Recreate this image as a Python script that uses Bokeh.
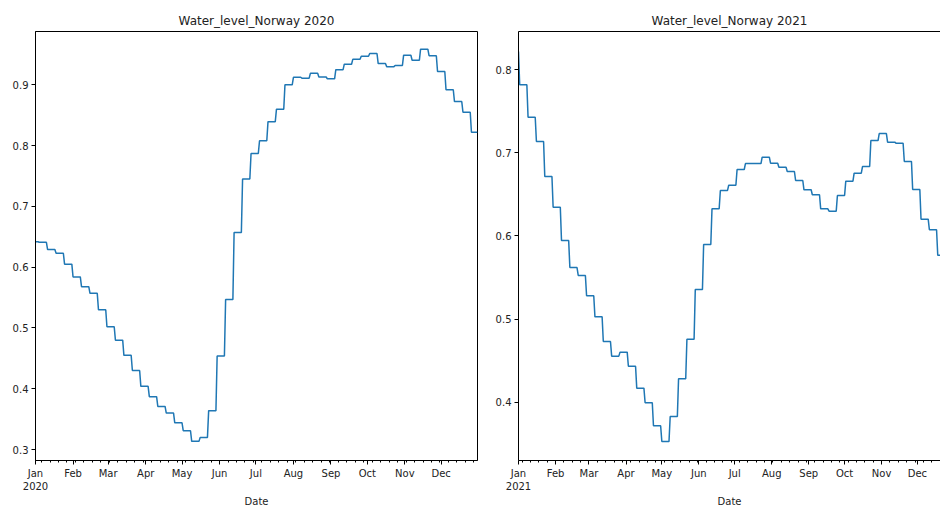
import pandas as pd
from bokeh.plotting import figure
from bokeh.layouts import row
from bokeh.models import Range1d, FixedTicker, LinearAxis, NumeralTickFormatter
from bokeh.embed import file_html
from bokeh.resources import INLINE

# ---- data: weekly reservoir filling, each value holds for a week starting on the given Saturday
first_week_2020 = "2019-12-28"
level_2020 = [0.642, 0.641, 0.629, 0.623, 0.605, 0.584, 0.568, 0.557, 0.530, 0.502,
              0.480, 0.455, 0.430, 0.404, 0.387, 0.371, 0.360, 0.344, 0.331, 0.3135,
              0.320, 0.364, 0.454, 0.547, 0.657, 0.745, 0.787, 0.808, 0.8395, 0.860,
              0.900, 0.9125, 0.911, 0.919, 0.913, 0.910, 0.925, 0.934, 0.942, 0.947,
              0.9516, 0.935, 0.930, 0.932, 0.9488, 0.9405, 0.9587, 0.948, 0.922, 0.892,
              0.8725, 0.855, 0.822]

first_week_2021 = "2020-12-26"
level_2021 = [0.822, 0.782, 0.743, 0.7137, 0.6716, 0.6347, 0.5946, 0.562, 0.5525, 0.528,
              0.5027, 0.473, 0.4554, 0.4602, 0.4433, 0.4169, 0.3993, 0.3716, 0.3526, 0.3828,
              0.4282, 0.4758, 0.5355, 0.5898, 0.6327, 0.6548, 0.6611, 0.680, 0.6872, 0.6872,
              0.6948, 0.6876, 0.6828, 0.6776, 0.6668, 0.6556, 0.6496, 0.6327, 0.6299, 0.6487,
              0.666, 0.6756, 0.6836, 0.7149, 0.7233, 0.7129, 0.7117, 0.6897, 0.656, 0.6202,
              0.6075, 0.5769]

month_labels = ["Jan", "Feb", "Mar", "Apr", "May", "Jun", "Jul", "Aug", "Sep", "Oct", "Nov", "Dec"]
y_ticks_2020 = [0.3, 0.4, 0.5, 0.6, 0.7, 0.8, 0.9]
y_ticks_2021 = [0.4, 0.5, 0.6, 0.7, 0.8]

FONT = "DejaVu Sans"
LINE = "#1f77b4"
TXT = "#222222"


def daily_steps(first_week, values, lo, hi):
    starts = pd.date_range(first_week, periods=len(values), freq="7D")
    xs, ys = [], []
    for s, v in zip(starts, values):
        a = max(s, lo)
        b = min(s + pd.Timedelta(days=6), hi)
        if a > hi or b < lo:
            continue
        xs += [a, b]
        ys += [v, v]
    return xs, ys


def ms(d):
    return float(pd.Timestamp(d).value // 10**6)


def style_axes(p):
    for ax in (p.xaxis[0], p.yaxis[0]):
        ax.major_tick_out = 4
        ax.major_tick_in = 0
        ax.minor_tick_out = 2
        ax.minor_tick_in = 0
        ax.major_label_text_font = FONT
        ax.major_label_text_font_size = "10px"
        ax.major_label_text_color = TXT
        ax.axis_line_color = "black"
        ax.major_tick_line_color = "black"
        ax.minor_tick_line_color = "black"
        ax.major_label_standoff = 3
    p.xaxis.axis_label = "Date"
    p.xaxis.axis_label_text_font = FONT
    p.xaxis.axis_label_text_font_size = "10px"
    p.xaxis.axis_label_text_font_style = "normal"
    p.xaxis.axis_label_text_color = TXT
    p.xaxis.axis_label_standoff = 1
    p.xgrid.visible = False
    p.ygrid.visible = False
    p.title.align = "center"
    p.title.text_font = FONT
    p.title.text_font_size = "12px"
    p.title.text_font_style = "normal"
    p.title.text_color = TXT
    p.title.standoff = 7


def make(year, first_week, values, x_end, y_lo, y_hi, y_ticks, fw, fh, bl, br, bt, bb, outline):
    lo = pd.Timestamp(f"{year}-01-01")
    hi = pd.Timestamp(f"{year}-12-31")
    xs, ys = daily_steps(first_week, values, lo, hi)
    p = figure(x_axis_type="datetime", output_backend="svg", toolbar_location=None,
               frame_width=fw, frame_height=fh, min_border_left=bl, min_border_right=br,
               min_border_top=bt, min_border_bottom=bb,
               x_range=Range1d(lo, x_end), y_range=Range1d(y_lo, y_hi),
               title=f"Water_level_Norway {year}")
    p.line(xs, ys, line_color=LINE, line_width=1.5)
    majors = pd.date_range(f"{year}-01-01", f"{year}-12-01", freq="MS")
    minors = pd.date_range(f"{year}-01-01", f"{year}-12-31", freq="W-MON")
    p.xaxis.ticker = FixedTicker(ticks=[ms(d) for d in majors], minor_ticks=[ms(d) for d in minors])
    overrides = {}
    for i, d in enumerate(majors):
        overrides[ms(d)] = f"{month_labels[i]}\n{year}" if i == 0 else month_labels[i]
    p.xaxis.major_label_overrides = overrides
    p.yaxis.ticker = FixedTicker(ticks=y_ticks, minor_ticks=[])
    p.yaxis.formatter = NumeralTickFormatter(format="0.0")
    style_axes(p)
    p.background_fill_color = "white"
    p.border_fill_color = "white"
    if outline:
        p.outline_line_color = "black"
        p.outline_line_width = 1
    else:
        p.outline_line_color = None
        top = LinearAxis(major_tick_line_color=None, minor_tick_line_color=None,
                         major_label_text_font_size="0px", axis_line_color="black")
        top.ticker = FixedTicker(ticks=[])
        p.add_layout(top, "above")
    return p


p1 = make(2020, first_week_2020, level_2020, pd.Timestamp("2020-12-31"),
          0.282, 0.9878, y_ticks_2020, 442, 429, 35, 13, 31, 48, True)
p2 = make(2021, first_week_2021, level_2021, pd.Timestamp("2021-01-01") + pd.Timedelta(days=353.3),
          0.3298, 0.8461, y_ticks_2021, 422, 429, 28, 0, 31, 48, False)

layout = row(p1, p2)
open("out.html", "w").write(file_html(layout, INLINE))
